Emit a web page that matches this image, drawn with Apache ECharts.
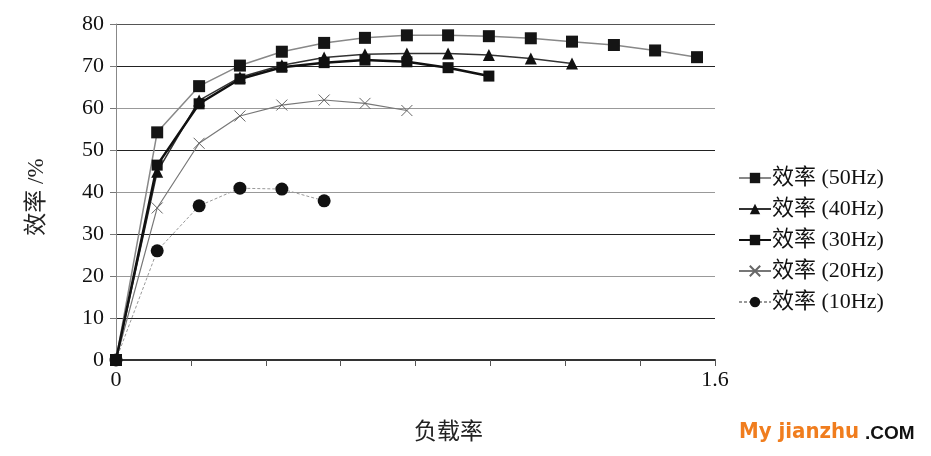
<!DOCTYPE html>
<html>
<head>
<meta charset="utf-8">
<script src="https://cdn.jsdelivr.net/npm/echarts@6/dist/echarts.min.js"></script>
<style>
html,body{margin:0;padding:0;background:#fff;}
#chart{width:931px;height:456px;}
</style>
</head>
<body>
<div id="chart"></div>
<script>
// Load rate (x) positions of measurement points
const loadRate = [0, 0.110, 0.222, 0.331, 0.443, 0.556, 0.665, 0.777, 0.887, 0.996, 1.108, 1.218, 1.330, 1.440, 1.552];
// Efficiency (%) per frequency
const eff50 = [0, 54.2, 65.2, 70.1, 73.4, 75.5, 76.7, 77.3, 77.3, 77.1, 76.6, 75.8, 75.0, 73.7, 72.1];
const eff40 = [0, 44.8, 61.8, 67.3, 70.2, 72.0, 72.8, 73.0, 73.0, 72.6, 71.8, 70.6];
const eff30 = [0, 46.4, 61.0, 66.9, 69.7, 70.8, 71.4, 71.0, 69.6, 67.6];
const eff20 = [0, 36.2, 51.6, 58.1, 60.7, 61.9, 61.1, 59.4];
const eff10 = [0, 26.0, 36.7, 40.9, 40.7, 37.9];
const seriesNames = ['效率 (50Hz)', '效率 (40Hz)', '效率 (30Hz)', '效率 (20Hz)', '效率 (10Hz)'];
const xTickLabels = ['0', '1.6'];
const xAxisTitle = '负载率';
const yAxisTitle = '效率 /%';

function pairs(vals) { return vals.map((v, i) => [loadRate[i], v]); }

const serif = "'Liberation Serif','Times New Roman','Noto Sans CJK SC',serif";
const chart = echarts.init(document.getElementById('chart'));
const crossPath = 'path://M0,0L10,10M0,10L10,0';

chart.setOption({
  animation: false,
  backgroundColor: '#fff',
  grid: { left: 116, right: 216, top: 24, bottom: 96 },
  xAxis: {
    type: 'value', min: 0, max: 1.6, interval: 0.2,
    name: xAxisTitle, nameLocation: 'middle', nameGap: 61,
    nameTextStyle: { fontFamily: serif, fontSize: 23, color: '#222', padding: [0, 0, 0, 66] },
    axisLine: { show: true, lineStyle: { color: '#333', width: 2 } },
    axisTick: { show: true, length: 6, lineStyle: { color: '#555' } },
    axisLabel: {
      fontFamily: serif, fontSize: 22, color: '#111', margin: 9,
      formatter: function (v) {
        if (Math.abs(v) < 1e-6) return xTickLabels[0];
        if (Math.abs(v - 1.6) < 1e-6) return xTickLabels[1];
        return '';
      }
    },
    splitLine: { show: false }
  },
  yAxis: {
    type: 'value', min: 0, max: 80, interval: 10,
    name: yAxisTitle, nameLocation: 'middle', nameGap: 68, nameRotate: 90,
    nameTextStyle: { fontFamily: serif, fontSize: 23, color: '#222', padding: [0, 10, 0, 0] },
    axisLine: { show: true, lineStyle: { color: '#888', width: 1 } },
    axisTick: { show: true, length: 6, lineStyle: { color: '#777' } },
    axisLabel: { fontFamily: serif, fontSize: 22, color: '#111', margin: 12 },
    splitLine: {
      show: true,
      lineStyle: { width: 1.2, color: ['#222', '#222', '#999', '#222', '#999', '#222', '#999', '#222', '#555'] }
    }
  },
  legend: {
    orient: 'vertical', left: 733, top: 162,
    itemWidth: 32, itemHeight: 13, itemGap: 9,
    textStyle: { fontFamily: serif, fontSize: 22, color: '#111', padding: [0, 0, 0, -4] },
    data: seriesNames
  },
  series: [
    {
      name: seriesNames[0], type: 'line', data: pairs(eff50),
      symbol: 'rect', symbolSize: 12,
      itemStyle: { color: '#151515' },
      lineStyle: { color: '#888', width: 1.5 },
      z: 3
    },
    {
      name: seriesNames[1], type: 'line', data: pairs(eff40),
      symbol: 'triangle', symbolSize: 12,
      itemStyle: { color: '#111' },
      lineStyle: { color: '#333', width: 1.5 },
      z: 4
    },
    {
      name: seriesNames[2], type: 'line', data: pairs(eff30),
      symbol: 'rect', symbolSize: 11,
      itemStyle: { color: '#111' },
      lineStyle: { color: '#111', width: 2.5 },
      z: 5
    },
    {
      name: seriesNames[3], type: 'line', data: pairs(eff20),
      symbol: crossPath, symbolSize: 11,
      itemStyle: { color: '#666', borderColor: '#666', borderWidth: 1 },
      lineStyle: { color: '#777', width: 1.2 },
      z: 2
    },
    {
      name: seriesNames[4], type: 'line', data: pairs(eff10),
      symbol: 'circle', symbolSize: 13,
      itemStyle: { color: '#111' },
      lineStyle: { color: '#999', width: 1, type: [3, 2] },
      z: 2
    }
  ],
  graphic: [
    {
      type: 'text', left: 739, top: 421,
      style: { text: 'My jianzhu', fill: '#f07d1e', font: "bold 22px 'Liberation Sans Narrow','DejaVu Sans Condensed',sans-serif" }
    },
    {
      type: 'text', left: 865, top: 424,
      style: { text: '.COM', fill: '#111', font: "bold 19px 'Liberation Sans','DejaVu Sans',sans-serif" }
    }
  ]
});
</script>
</body>
</html>
